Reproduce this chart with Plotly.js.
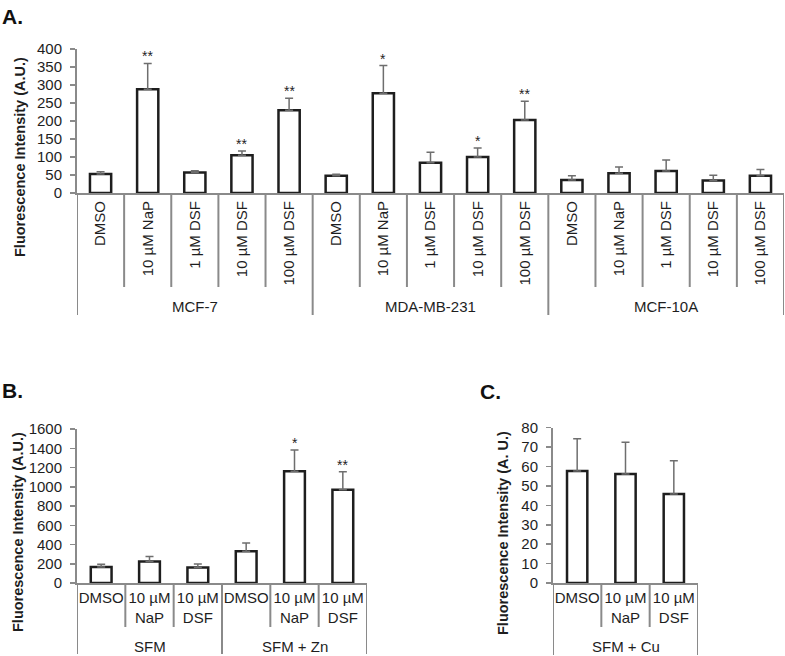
<!DOCTYPE html>
<html>
<head>
<meta charset="utf-8">
<script src="https://cdn.plot.ly/plotly-3.0.1.min.js"></script>
<style>html,body{margin:0;padding:0;background:#fff;}#chart{width:785px;height:656px;}</style>
</head>
<body>
<div id="chart"></div>
<script>
// ---------- data ----------
const treatA = ['DMSO', '10 µM NaP', '1 µM DSF', '10 µM DSF', '100 µM DSF'];
const groupsA = ['MCF-7', 'MDA-MB-231', 'MCF-10A'];
const labelsA = [].concat(treatA, treatA, treatA);
const valsA = [53, 288, 57, 105, 230, 48, 277, 84, 100, 203, 36, 55, 61, 35, 48];
const errA  = [6, 72, 5, 12, 33, 4, 77, 29, 25, 52, 12, 17, 31, 14, 17];
const sigA  = ['', '**', '', '**', '**', '', '*', '', '*', '**', '', '', '', '', ''];

const treatB = ['DMSO', '10 µM<br>NaP', '10 µM<br>DSF'];
const groupsB = ['SFM', 'SFM + Zn'];
const labelsB = [].concat(treatB, treatB);
const valsB = [166, 223, 160, 330, 1160, 970];
const errB  = [29, 52, 38, 86, 222, 185];
const sigB  = ['', '', '', '', '*', '**'];

const treatC = ['DMSO', '10 µM<br>NaP', '10 µM<br>DSF'];
const groupsC = ['SFM + Cu'];
const valsC = [57.7, 56.2, 45.8];
const errC  = [16.6, 16.3, 17.2];
const sigC  = ['', '', ''];

// ---------- helpers ----------
const W = 785, H = 656;
const px = v => v / W;
const py = v => 1 - v / H;
const FONT = 'Liberation Sans, Arial, sans-serif';
const TXT = '#1e1e1e';
const AXC = '#8a8a8a';
const idx = arr => arr.map((_, i) => i);

function barTrace(vals, errs, xa, ya, width) {
  return {
    type: 'bar', x: idx(vals), y: vals, xaxis: xa, yaxis: ya,
    width: width,
    marker: {color: '#ffffff', line: {color: '#1e1e1e', width: 2.5}},
    error_y: {type: 'data', symmetric: false, array: errs, arrayminus: errs.map(() => 0),
              color: '#6e6e6e', thickness: 1.5, width: 4},
    hoverinfo: 'skip', showlegend: false
  };
}

const data = [
  barTrace(valsA, errA, 'x', 'y', 0.45),
  barTrace(valsB, errB, 'x2', 'y2', 0.43),
  barTrace(valsC, errC, 'x3', 'y3', 0.42)
];

function xAxis(dom, labels, yref, angle, fsize) {
  return {
    domain: dom, anchor: yref, range: [-0.5, labels.length - 0.5],
    showline: true, linecolor: AXC, linewidth: 2, ticks: '', showgrid: false, zeroline: false,
    tickmode: 'array', tickvals: idx(labels), ticktext: labels, tickangle: angle,
    tickfont: {family: FONT, size: fsize, color: TXT}, fixedrange: true
  };
}
function yAxis(dom, rng, dt, xref) {
  return {
    domain: dom, anchor: xref, range: rng, dtick: dt, tick0: 0,
    showline: true, linecolor: AXC, linewidth: 2, ticks: 'outside', ticklen: 5, tickcolor: AXC, tickwidth: 1.5,
    ticklabelstandoff: 5,
    showgrid: false, zeroline: false,
    tickfont: {family: FONT, size: 15, color: TXT}, fixedrange: true
  };
}

// domains (pixel positions converted to paper fractions)
const axA = {x0: 77, x1: 784, y0: 193, y1: 49};
const axB = {x0: 77, x1: 367, y0: 583, y1: 429};
const axC = {x0: 553, x1: 698, y0: 583, y1: 427.7};

const shapes = [];
const annotations = [];

function separators(n, groupSize, xref, ax, innerBottom, groupBottom) {
  for (let i = 0; i <= n; i++) {
    const isGroup = (i % groupSize === 0);
    shapes.push({type: 'line', xref: xref, yref: 'paper', x0: i - 0.5, x1: i - 0.5,
      y0: py(ax.y0), y1: py(isGroup ? groupBottom : innerBottom),
      line: {color: AXC, width: 2}});
  }
}
function groupLabels(groups, groupSize, xref, yPix) {
  groups.forEach((g, k) => {
    annotations.push({xref: xref, yref: 'paper', x: k * groupSize + (groupSize - 1) / 2, y: py(yPix),
      text: g, showarrow: false, xanchor: 'center', yanchor: 'middle',
      font: {family: FONT, size: 15, color: TXT}});
  });
}
function stars(sig, vals, errs, xref, yref) {
  sig.forEach((s, i) => {
    if (!s) return;
    annotations.push({xref: xref, yref: yref, x: i, y: vals[i] + errs[i], text: s, showarrow: false,
      xanchor: 'center', yanchor: 'bottom', yshift: -3,
      font: {family: FONT, size: 14, color: TXT}});
  });
}

separators(labelsA.length, treatA.length, 'x', axA, 287, 315);
separators(labelsB.length, treatB.length, 'x2', axB, 627, 654);
separators(treatC.length, treatC.length, 'x3', axC, 627, 655);
groupLabels(groupsA, treatA.length, 'x', 306);
groupLabels(groupsB, treatB.length, 'x2', 646);
groupLabels(groupsC, treatC.length, 'x3', 646);
stars(sigA, valsA, errA, 'x', 'y');
stars(sigB, valsB, errB, 'x2', 'y2');
stars(sigC, valsC, errC, 'x3', 'y3');

function yTitle(text, xPix, yPix) {
  annotations.push({xref: 'paper', yref: 'paper', x: px(xPix), y: py(yPix), text: text, showarrow: false,
    textangle: -90, xanchor: 'center', yanchor: 'middle',
    font: {family: FONT, size: 14.5, color: TXT, weight: 'bold'}});
}
yTitle('<b>Fluorescence Intensity (A.U.)</b>', 20, 157);
yTitle('<b>Fluorescence Intensity (A.U.)</b>', 18, 532);
yTitle('<b>Fluorescence Intensity (A. U.)</b>', 503, 533);

function panelLabel(text, xPix, yPix) {
  annotations.push({xref: 'paper', yref: 'paper', x: px(xPix), y: py(yPix), text: '<b>' + text + '</b>',
    showarrow: false, xanchor: 'left', yanchor: 'middle',
    font: {family: FONT, size: 21, color: '#111'}});
}
panelLabel('A.', 0, 16);
panelLabel('B.', 0, 390);
panelLabel('C.', 478, 391);

const layout = {
  width: W, height: H, autosize: false,
  margin: {l: 0, r: 0, t: 0, b: 0, pad: 0},
  paper_bgcolor: '#ffffff', plot_bgcolor: 'rgba(0,0,0,0)',
  showlegend: false, bargap: 0,
  xaxis:  xAxis([px(axA.x0), px(axA.x1)], labelsA, 'y', -90, 15),
  yaxis:  yAxis([py(axA.y0), py(axA.y1)], [0, 400], 50, 'x'),
  xaxis2: xAxis([px(axB.x0), px(axB.x1)], labelsB, 'y2', 0, 15),
  yaxis2: yAxis([py(axB.y0), py(axB.y1)], [0, 1600], 200, 'x2'),
  xaxis3: xAxis([px(axC.x0), px(axC.x1)], [].concat(treatC), 'y3', 0, 15),
  yaxis3: yAxis([py(axC.y0), py(axC.y1)], [0, 80], 10, 'x3'),
  shapes: shapes,
  annotations: annotations
};

Plotly.newPlot('chart', data, layout, {staticPlot: true, displayModeBar: false});
</script>
</body>
</html>
